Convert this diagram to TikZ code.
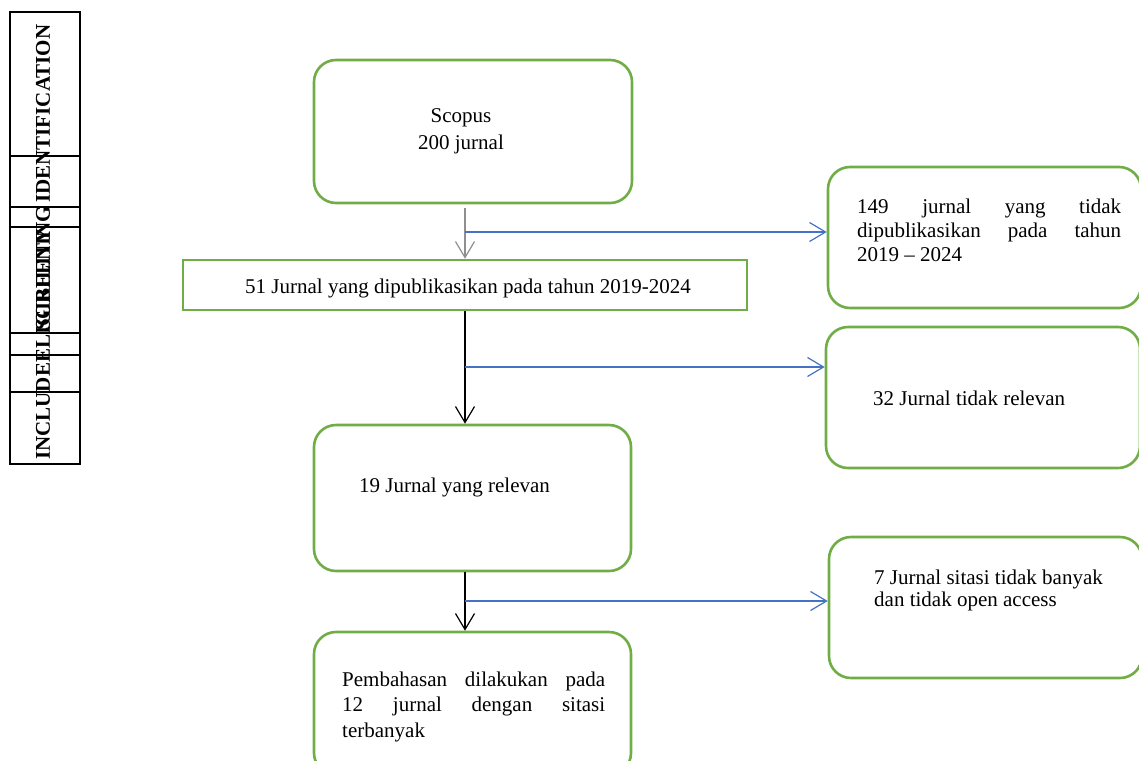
\documentclass[tikz,border=0pt]{standalone}
\usepackage{fontspec}
\setmainfont{Liberation Serif}
\usetikzlibrary{arrows.meta}
\definecolor{boxgreen}{HTML}{70AD47}
\definecolor{linkblue}{HTML}{4472C4}
\definecolor{stemgray}{HTML}{8F8F8F}
\newcommand{\jline}[2][264pt]{\makebox[#1][s]{#2}}
\begin{document}
\begin{tikzpicture}[x=1pt,y=-1pt,
  flowbox/.style={draw=boxgreen,line width=2.6pt,rounded corners=22pt},
  flowrect/.style={draw=boxgreen,line width=2.6pt},
  lbl/.style={font=\fontsize{21}{24}\selectfont},
  stagelbl/.style={rotate=90,anchor=west,font=\bfseries\fontsize{21}{24}\selectfont},
  tipV/.style={-{Straight Barb[length=16pt,width=19pt]}},
  downarrow/.style={tipV,line width=1.2pt},
  sidearrow/.style={tipV,draw=linkblue,line width=1.2pt}]
\tikzstyle{every node}+=[inner sep=0pt]
\useasboundingbox (0,0) rectangle (1139,760);
\node[stagelbl] (incl) at (43,460) {INCLUDED};
\node[stagelbl,fill=white] (elig) at (43,363) {ELIGIBILITY};
\node[stagelbl] (screen) at (43,331) {SCREENING};
\node[stagelbl] (ident) at (43,203) {IDENTIFICATION};
\draw[line width=1.1pt] (10,12) rectangle (80,464);
\foreach \yy in {156,207,227,333,355,392}
  \draw[line width=1.1pt] (10,\yy) -- (80,\yy);
\node[flowbox,minimum width=318pt,minimum height=143pt] (scopus) at (473,131.5) {};
\node[flowrect,minimum width=564pt,minimum height=50pt] (filtered) at (465,285) {};
\node[flowbox,minimum width=317pt,minimum height=146pt] (relevant) at (472.5,498) {};
\node[flowbox,minimum width=317pt,minimum height=143pt] (discussed) at (472.5,703.5) {};
\node[flowbox,minimum width=313pt,minimum height=141pt] (notyear) at (984.5,237.5) {};
\node[flowbox,minimum width=314pt,minimum height=141pt] (notrel) at (983,397.5) {};
\node[flowbox,minimum width=313pt,minimum height=141pt] (notcited) at (985.5,607.5) {};
\node[lbl,align=center,anchor=north,font=\fontsize{21}{26.5}\selectfont] (scopustxt) at (461,108.5) {Scopus\\200 jurnal};
\node[lbl,anchor=base] (filteredtxt) at (468,293) {51 Jurnal yang dipublikasikan pada tahun 2019-2024};
\node[lbl,anchor=base west] (relevanttxt) at (359,492) {19 Jurnal yang relevan};
\node[lbl,anchor=north west,align=left,font=\fontsize{21}{25.5}\selectfont] (discussedtxt) at (342,671.5) {\jline[263pt]{Pembahasan dilakukan pada}\\\jline[263pt]{12 jurnal dengan sitasi}\\terbanyak};
\node[lbl,anchor=north west,align=left] (notyeartxt) at (857,198.5) {\jline{149 jurnal yang tidak}\\\jline{dipublikasikan pada tahun}\\2019 – 2024};
\node[lbl,anchor=base west] (notreltxt) at (873,405) {32 Jurnal tidak relevan};
\node[lbl,anchor=north west,align=left,font=\fontsize{21}{22.5}\selectfont] (notcitedtxt) at (874,569.5) {7 Jurnal sitasi tidak banyak\\dan tidak open access};
\coordinate (j1) at (465,232);
\coordinate (j2) at (465,367);
\coordinate (j3) at (465,601);
\draw[downarrow,draw=stemgray,shorten <=4pt] (scopus.south -| filtered.north) -- (filtered.north);
\draw[sidearrow] (j1) -- (j1 -| notyear.west);
\draw[downarrow] (filtered.south) -- (filtered.south |- relevant.north);
\draw[sidearrow] (j2) -- (j2 -| notrel.west);
\draw[downarrow] (relevant.south -| filtered.south) -- (discussed.north -| filtered.south);
\draw[sidearrow] (j3) -- (j3 -| notcited.west);
\end{tikzpicture}
\end{document}
